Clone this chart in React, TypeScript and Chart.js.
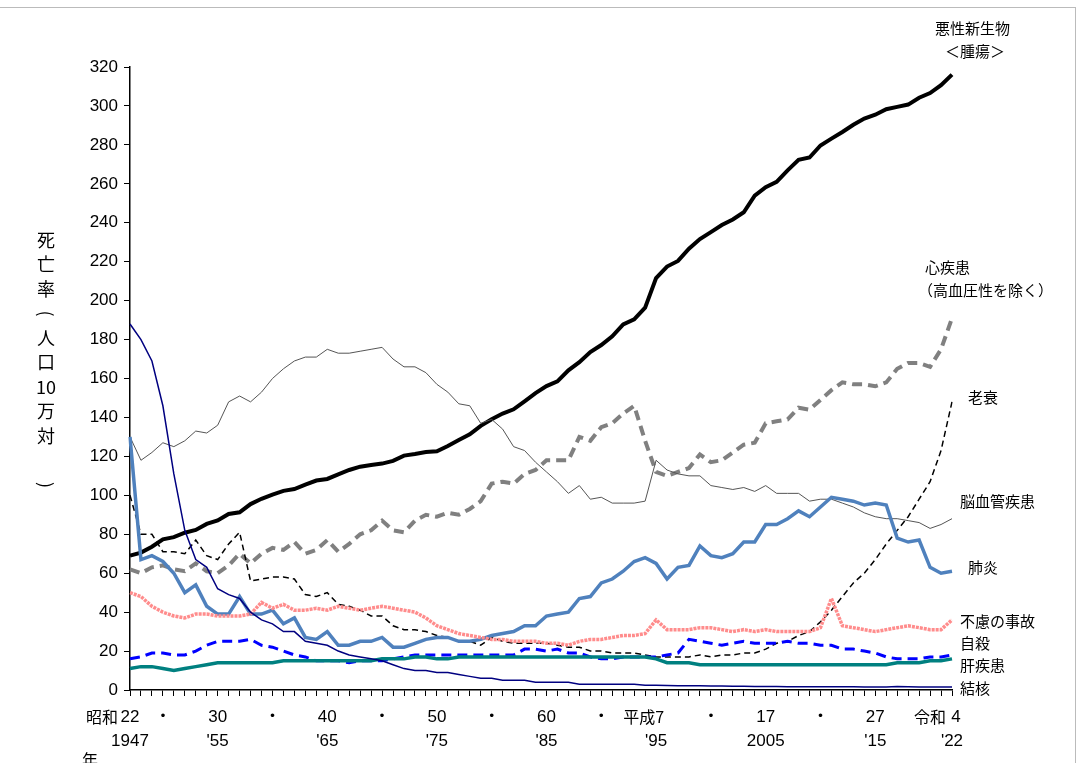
import { useEffect, useRef } from "react";
import { Chart, registerables } from "chart.js";
import type { Plugin as ChartPlugin } from "chart.js";

Chart.register(...registerables);

const years: number[] = [];
for (let y = 1947; y <= 2022; y++) years.push(y);

const cancer = [69, 70.6, 73.6, 77.4, 78.5, 80.8, 82.2, 85.3, 87.1, 90.4, 91.3, 95.5, 98.2, 100.4, 102.3, 103.2, 105.5, 107.6, 108.4, 110.8, 113, 114.7, 115.6, 116.3, 117.7, 120.4, 121.2, 122.2, 122.6, 125.3, 128.4, 131.3, 135.7, 139.1, 142, 144.2, 148.3, 152.5, 156.1, 158.5, 164.2, 168.4, 173.6, 177.2, 181.7, 187.8, 190.4, 196.4, 211.6, 217.5, 220.4, 226.7, 231.6, 235.2, 238.8, 241.7, 245.4, 253.9, 258.3, 261, 266.9, 272.3, 273.5, 279.7, 283.2, 286.6, 290.3, 293.5, 295.5, 298.3, 299.5, 300.7, 304.2, 306.6, 310.7, 316.1];
const heart = [62, 60, 63, 64, 62, 61, 65, 61, 60, 64, 70, 65, 70, 73, 72, 76, 70, 72, 77, 71, 75, 80, 82, 87, 82, 81, 87, 90, 89, 91, 90, 93, 97, 106, 107, 106, 111, 113, 118, 118, 118, 130, 128, 135, 137, 142, 146, 128, 112, 110, 112, 114, 121, 117, 118, 122, 126, 127, 137, 138, 139, 145, 144, 149, 154, 158, 157, 157, 156, 158, 165, 168, 168, 166, 175, 191];
const senility = [100, 80, 80, 71, 71, 70, 77, 69, 67, 75, 81, 56, 57, 58, 58, 57, 49, 48, 50, 44, 43, 41, 38, 38, 33, 31, 31, 30, 28, 27, 25, 25, 23, 27, 25, 24, 24, 24, 24, 23, 22, 22, 20, 20, 19, 19, 19, 18, 17, 17, 17, 17, 18, 17, 18, 18, 19, 19, 21, 24, 25, 28, 30, 35, 41, 48, 55, 60, 67, 75, 82, 89, 98, 107, 123, 148];
const cerebro = [130, 118, 122, 127, 125, 128, 133, 132, 136, 148, 151, 148, 153, 160, 165, 169, 171, 171, 175, 173, 173, 174, 175, 176, 170, 166, 166, 163, 157, 153, 147, 146, 137, 139, 134, 125, 123, 117, 112, 107, 101, 105, 98, 99, 96, 96, 96, 97, 118, 113, 111, 110, 110, 105, 104, 103, 104, 102, 105, 101, 101, 101, 97, 98, 98, 96, 94, 91, 89, 88, 88, 87, 86, 83, 85, 88];
const pneumonia = [130, 67, 69, 66, 60, 50, 54, 43, 39, 39, 48, 39, 39, 41, 34, 37, 27, 26, 30, 23, 23, 25, 25, 27, 22, 22, 24, 26, 27, 27, 25, 25, 26, 28, 29, 30, 33, 33, 38, 39, 40, 47, 48, 55, 57, 61, 66, 68, 65, 57, 63, 64, 74, 69, 68, 70, 76, 76, 85, 85, 88, 92, 89, 94, 99, 98, 97, 95, 96, 95, 78, 76, 77, 63, 60, 61];
const accident = [50, 48, 43, 40, 38, 37, 39, 39, 38, 38, 38, 39, 45, 42, 44, 41, 41, 42, 41, 43, 42, 41, 42, 43, 42, 41, 40, 37, 33, 31, 29, 28, 27, 26, 26, 25, 25, 25, 24, 24, 23, 25, 26, 26, 27, 28, 28, 29, 36, 31, 31, 31, 32, 32, 31, 30, 31, 30, 31, 30, 30, 30, 30, 32, 47, 33, 32, 31, 30, 31, 32, 33, 32, 31, 31, 36];
const suicide = [16, 17, 19, 19, 18, 18, 20, 23, 25, 25, 25, 26, 23, 22, 20, 18, 17, 15, 15, 15, 14, 15, 15, 15, 16, 17, 18, 18, 18, 18, 18, 18, 18, 18, 18, 18, 21, 21, 20, 21, 19, 19, 17, 16, 16, 17, 17, 17, 17, 18, 19, 26, 25, 24, 23, 24, 25, 24, 24, 24, 25, 24, 24, 23, 23, 21, 21, 20, 19, 17, 16, 16, 16, 17, 17, 18];
const liver = [11, 12, 12, 11, 10, 11, 12, 13, 14, 14, 14, 14, 14, 14, 15, 15, 15, 15, 15, 15, 15, 15, 15, 16, 16, 16, 17, 17, 16, 16, 17, 17, 17, 17, 17, 17, 17, 17, 17, 17, 17, 17, 17, 17, 17, 17, 17, 17, 16, 14, 14, 14, 13, 13, 13, 13, 13, 13, 13, 13, 13, 13, 13, 13, 13, 13, 13, 13, 13, 13, 14, 14, 14, 15, 15, 16];
const tb = [188, 180, 169, 146, 111, 82, 67, 63, 52, 49, 47, 40, 36, 34, 30, 30, 25, 24, 23, 20, 18, 17, 16, 15, 13, 11, 10, 10, 9, 9, 8, 7, 6, 6, 5, 5, 5, 4, 4, 4, 4, 3, 3, 3, 3, 3, 3, 2.5, 2.5, 2.3, 2.2, 2.2, 2.2, 2.1, 2, 1.9, 1.9, 1.8, 1.8, 1.8, 1.7, 1.7, 1.7, 1.7, 1.7, 1.7, 1.7, 1.6, 1.5, 1.5, 1.8, 1.7, 1.6, 1.5, 1.5, 1.5];

// x axis labels: [year, upper, lower]
const xLabels: [number, string, string][] = [
    [1947, "22", "1947"], [1950, "・", ""], [1955, "30", "'55"], [1960, "・", ""], [1965, "40", "'65"],
    [1970, "・", ""], [1975, "50", "'75"], [1980, "・", ""], [1985, "60", "'85"], [1990, "・", ""],
    [1995, "平成7", "'95"], [2000, "・", ""], [2005, "17", "2005"], [2010, "・", ""], [2015, "27", "'15"], [2022, "令和 4", "'22"],
];

const rightLabels: [string, number, number][] = [
    ["悪性新生物", 935, 28], ["＜腫瘍＞", 945, 51],
    ["心疾患", 925, 267], ["（高血圧性を除く）", 918, 290],
    ["老衰", 968, 397], ["脳血管疾患", 960, 501], ["肺炎", 968, 567],
    ["不慮の事故", 960, 621], ["自殺", 960, 643], ["肝疾患", 960, 665], ["結核", 960, 688],
];

const FONT = '"Liberation Sans Narrow", "Liberation Sans", "Noto Sans CJK JP", sans-serif';
const JP = '"Noto Sans CJK JP", sans-serif';

const textPlugin: ChartPlugin = {
    id: "textPlugin",
    afterDraw: (chart: Chart) => {
        const ctx = chart.ctx;
        const x = chart.scales.x;
        const bottom = chart.chartArea.bottom;
        ctx.save();
        ctx.fillStyle = "#000";
        ctx.textBaseline = "middle";
        ctx.font = `17px ${FONT}`;
        for (const [yr, up, low] of xLabels) {
            const px = x.getPixelForValue(years.indexOf(yr));
            if (up === "平成7") {
                ctx.textAlign = "right";
                ctx.font = `16px ${JP}`;
                ctx.fillText("平成7", px + 8, bottom + 27);
                ctx.font = `17px ${FONT}`;
            } else if (up.startsWith("令和")) {
                ctx.textAlign = "right";
                ctx.font = `16px ${JP}`;
                ctx.fillText("令和", px - 6, bottom + 27);
                ctx.font = `17px ${FONT}`;
                ctx.textAlign = "center";
                ctx.fillText("4", px + 4, bottom + 27);
            } else {
                ctx.textAlign = "center";
                ctx.fillText(up, px, bottom + 27);
            }
            ctx.textAlign = "center";
            if (low) ctx.fillText(low, px, bottom + 51);
        }
        ctx.font = `16px ${JP}`;
        ctx.textAlign = "right";
        ctx.fillText("昭和", x.getPixelForValue(0) - 12, bottom + 27);
        ctx.textAlign = "left";
        ctx.fillText("年", 82, bottom + 70);
        // y title, upright characters
        const title = ["死", "亡", "率", "（", "人", "口", "10", "万", "対", "", "）"];
        ctx.textAlign = "center";
        ctx.font = `18px ${JP}`;
        title.forEach((c, i) => {
            if (c === "（" || c === "）") {
                ctx.save();
                ctx.translate(46, 240 + i * 24.5);
                ctx.rotate(Math.PI / 2);
                ctx.fillText(c.replace("（", "(").replace("）", ")"), 0, 0);
                ctx.restore();
            } else {
                ctx.fillText(c, 46, 240 + i * 24.5);
            }
        });
        ctx.textAlign = "left";
        ctx.font = `15px ${JP}`;
        for (const [t, lx, ly] of rightLabels) ctx.fillText(t, lx, ly);
        ctx.restore();
    },
};

const ds = (label: string, data: number[], color: string, width: number, dash: number[] = []) => ({
    label, data, borderColor: color, backgroundColor: color, borderWidth: width, borderDash: dash,
    pointRadius: 0, tension: 0, fill: false,
});

export default function App() {
    const canvasRef = useRef<HTMLCanvasElement>(null);

    useEffect(() => {
        document.body.style.margin = "0";
        if (!canvasRef.current) return;
        const chart = new Chart(canvasRef.current, {
            type: "line",
            data: {
                labels: years,
                datasets: [
                    ds("結核", tb, "#000080", 1.5),
                    ds("肝疾患", liver, "#008080", 3.5),
                    ds("自殺", suicide, "#0000ff", 3, [10, 6]),
                    ds("不慮の事故", accident, "#ff8c8c", 3.5, [3, 1]),
                    ds("肺炎", pneumonia, "#4f81bd", 3.5),
                    ds("脳血管疾患", cerebro, "#555555", 1),
                    ds("老衰", senility, "#000000", 1.5, [6, 4]),
                    ds("心疾患", heart, "#808080", 4, [10, 6]),
                    ds("悪性新生物", cancer, "#000000", 4),
                ],
            },
            options: {
                responsive: false,
                animation: false,
                layout: { padding: { left: 80, top: 67, right: 125, bottom: 0 } },
                plugins: { legend: { display: false }, tooltip: { enabled: false } },
                scales: {
                    x: {
                        type: "category",
                        offset: false,
                        afterFit: (s: any) => { s.height = 73; },
                        border: { color: "#000", width: 1.5 },
                        grid: { drawOnChartArea: false, color: "#000", tickLength: 6 },
                        ticks: { autoSkip: false, display: false },
                    },
                    y: {
                        min: 0,
                        max: 320,
                        afterFit: (s: any) => { s.width = 50; },
                        border: { color: "#000", width: 1.5 },
                        grid: { drawOnChartArea: false, color: "#000", tickLength: 6 },
                        ticks: { stepSize: 20, color: "#000", font: { size: 17, family: FONT }, padding: 6 },
                    },
                },
            },
            plugins: [textPlugin],
        });
        return () => chart.destroy();
    }, []);

    return (
        <div style={{ width: 1077, height: 763, position: "relative", boxSizing: "border-box" }}>
            <canvas ref={canvasRef} width={1077} height={763} />
            <div style={{ position: "absolute", left: 0, top: 7, width: 1075, height: 756, borderTop: "1px solid #bbb", borderRight: "1px solid #bbb", pointerEvents: "none" }} />
        </div>
    );
}
